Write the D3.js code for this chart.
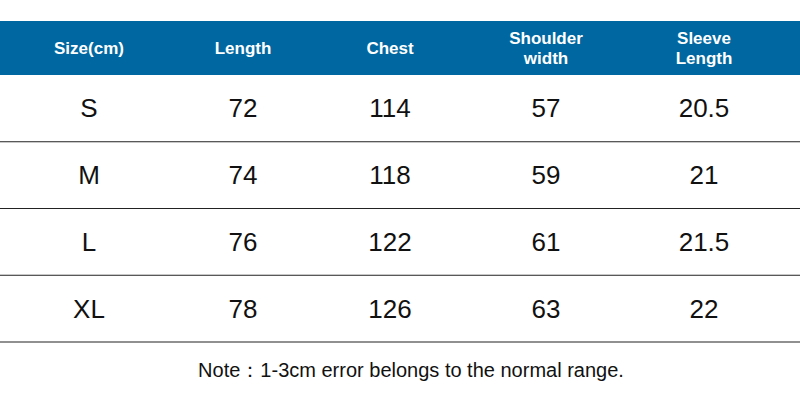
<!DOCTYPE html><html><head><meta charset="utf-8"><script src="https://cdn.jsdelivr.net/npm/d3@7"></script>
<style>body{margin:0;background:#fff}</style></head><body><svg id="c" width="800" height="412"></svg><script>
const headers=[["Size(cm)"],["Length"],["Chest"],["Shoulder","width"],["Sleeve","Length"]];
const sizes=["S","M","L","XL"];
const length=[72,74,76,78];
const chest=[114,118,122,126];
const shoulder=[57,59,61,63];
const sleeve=[20.5,21,21.5,22];
const note="Note：1-3cm error belongs to the normal range.";
const svg=d3.select("#c");
const x=d3.scalePoint().domain(d3.range(5)).range([89,704]);
const xs=[89,243,390,546,704];
const y=d3.scaleBand().domain(d3.range(4)).range([75,342]);
svg.append("rect").attr("x",0).attr("y",21).attr("width",800).attr("height",54).attr("fill","#0067a0");
headers.forEach((h,i)=>{
  const t=svg.append("text").attr("x",xs[i]).attr("text-anchor","middle").attr("fill","#fff")
   .attr("font-family","Liberation Sans, Arial").attr("font-weight","bold").attr("font-size",17);
  h.forEach((l,j)=>t.append("tspan").attr("x",xs[i]).attr("y",h.length==1?54:44+j*20).text(l));
});
const rows=sizes.map((s,i)=>[s,length[i],chest[i],shoulder[i],sleeve[i]]);
rows.forEach((r,ri)=>{
  const cy=y(ri)+y.bandwidth()/2;
  r.forEach((v,ci)=>svg.append("text").attr("x",xs[ci]).attr("y",cy+9).attr("text-anchor","middle")
    .attr("font-family","Liberation Sans, Arial").attr("font-size",26).attr("fill","#111").text(v));
  svg.append("line").attr("x1",0).attr("x2",800).attr("y1",y(ri)+y.bandwidth()).attr("y2",y(ri)+y.bandwidth()).attr("stroke","#222").attr("stroke-width",1.2);
});
svg.append("text").attr("x",411).attr("y",377).attr("text-anchor","middle").attr("font-family","Liberation Sans, Arial").attr("font-size",20).attr("fill","#111").text(note);
</script></body></html>
